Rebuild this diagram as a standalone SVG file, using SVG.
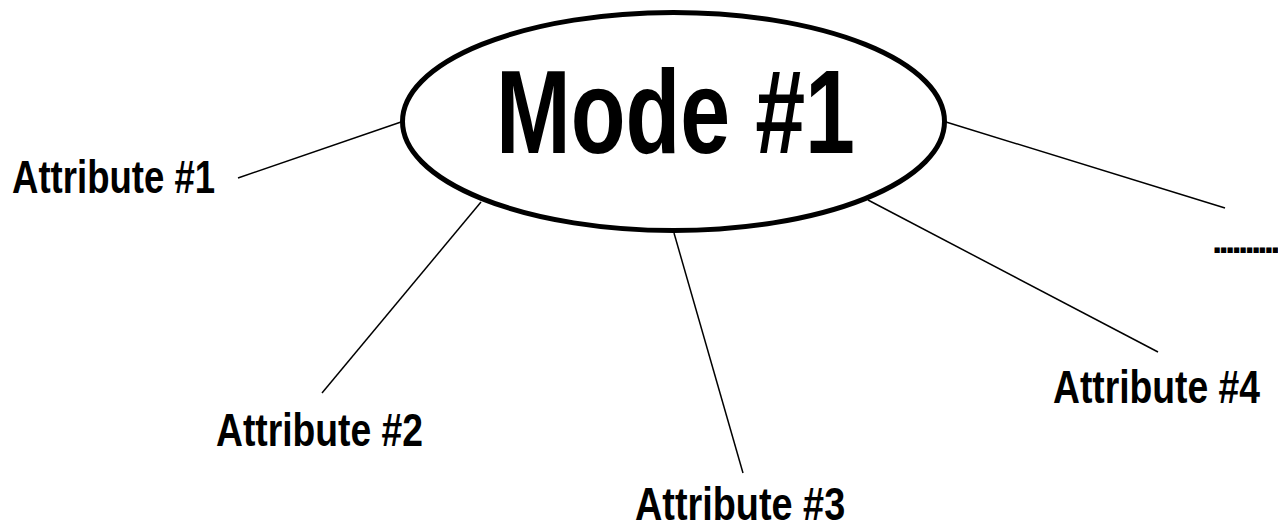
<svg xmlns="http://www.w3.org/2000/svg" width="1278" height="530" viewBox="0 0 1278 530">
<style>
.lbl{font-family:"Liberation Sans",Arial,sans-serif;font-weight:bold;font-size:47px;fill:#000}
.title{font-family:"Liberation Sans",Arial,sans-serif;font-weight:bold;font-size:119px;fill:#000}
.conn line{stroke:#000;stroke-width:1.5}
</style>
<rect width="1278" height="530" fill="#fff"/>
<g id="connectors" class="conn">
<line x1="238" y1="178" x2="401" y2="122"/>
<line x1="481" y1="202" x2="322" y2="393"/>
<line x1="674" y1="233" x2="743" y2="473"/>
<line x1="868" y1="200" x2="1158" y2="352"/>
<line x1="946" y1="122" x2="1225" y2="208"/>
</g>
<g id="mode1">
<ellipse cx="673.5" cy="121.5" rx="271" ry="109" fill="#fff" stroke="#000" stroke-width="5"/>
<text class="title" transform="translate(496,153) scale(0.754,1)">Mode #1</text>
</g>
<g id="attr1"><text class="lbl" transform="translate(12,193) scale(0.778,1)">Attribute #1</text></g>
<g id="attr2"><text class="lbl" transform="translate(216,446) scale(0.793,1)">Attribute #2</text></g>
<g id="attr3"><text class="lbl" transform="translate(635,520) scale(0.805,1)">Attribute #3</text></g>
<g id="attr4"><text class="lbl" transform="translate(1053,403) scale(0.793,1)">Attribute #4</text></g>
<g id="more"><text x="1212" y="253" font-family="Liberation Sans, Arial, sans-serif" font-weight="bold" font-size="37" letter-spacing="-3.8">..........</text></g>
</svg>
